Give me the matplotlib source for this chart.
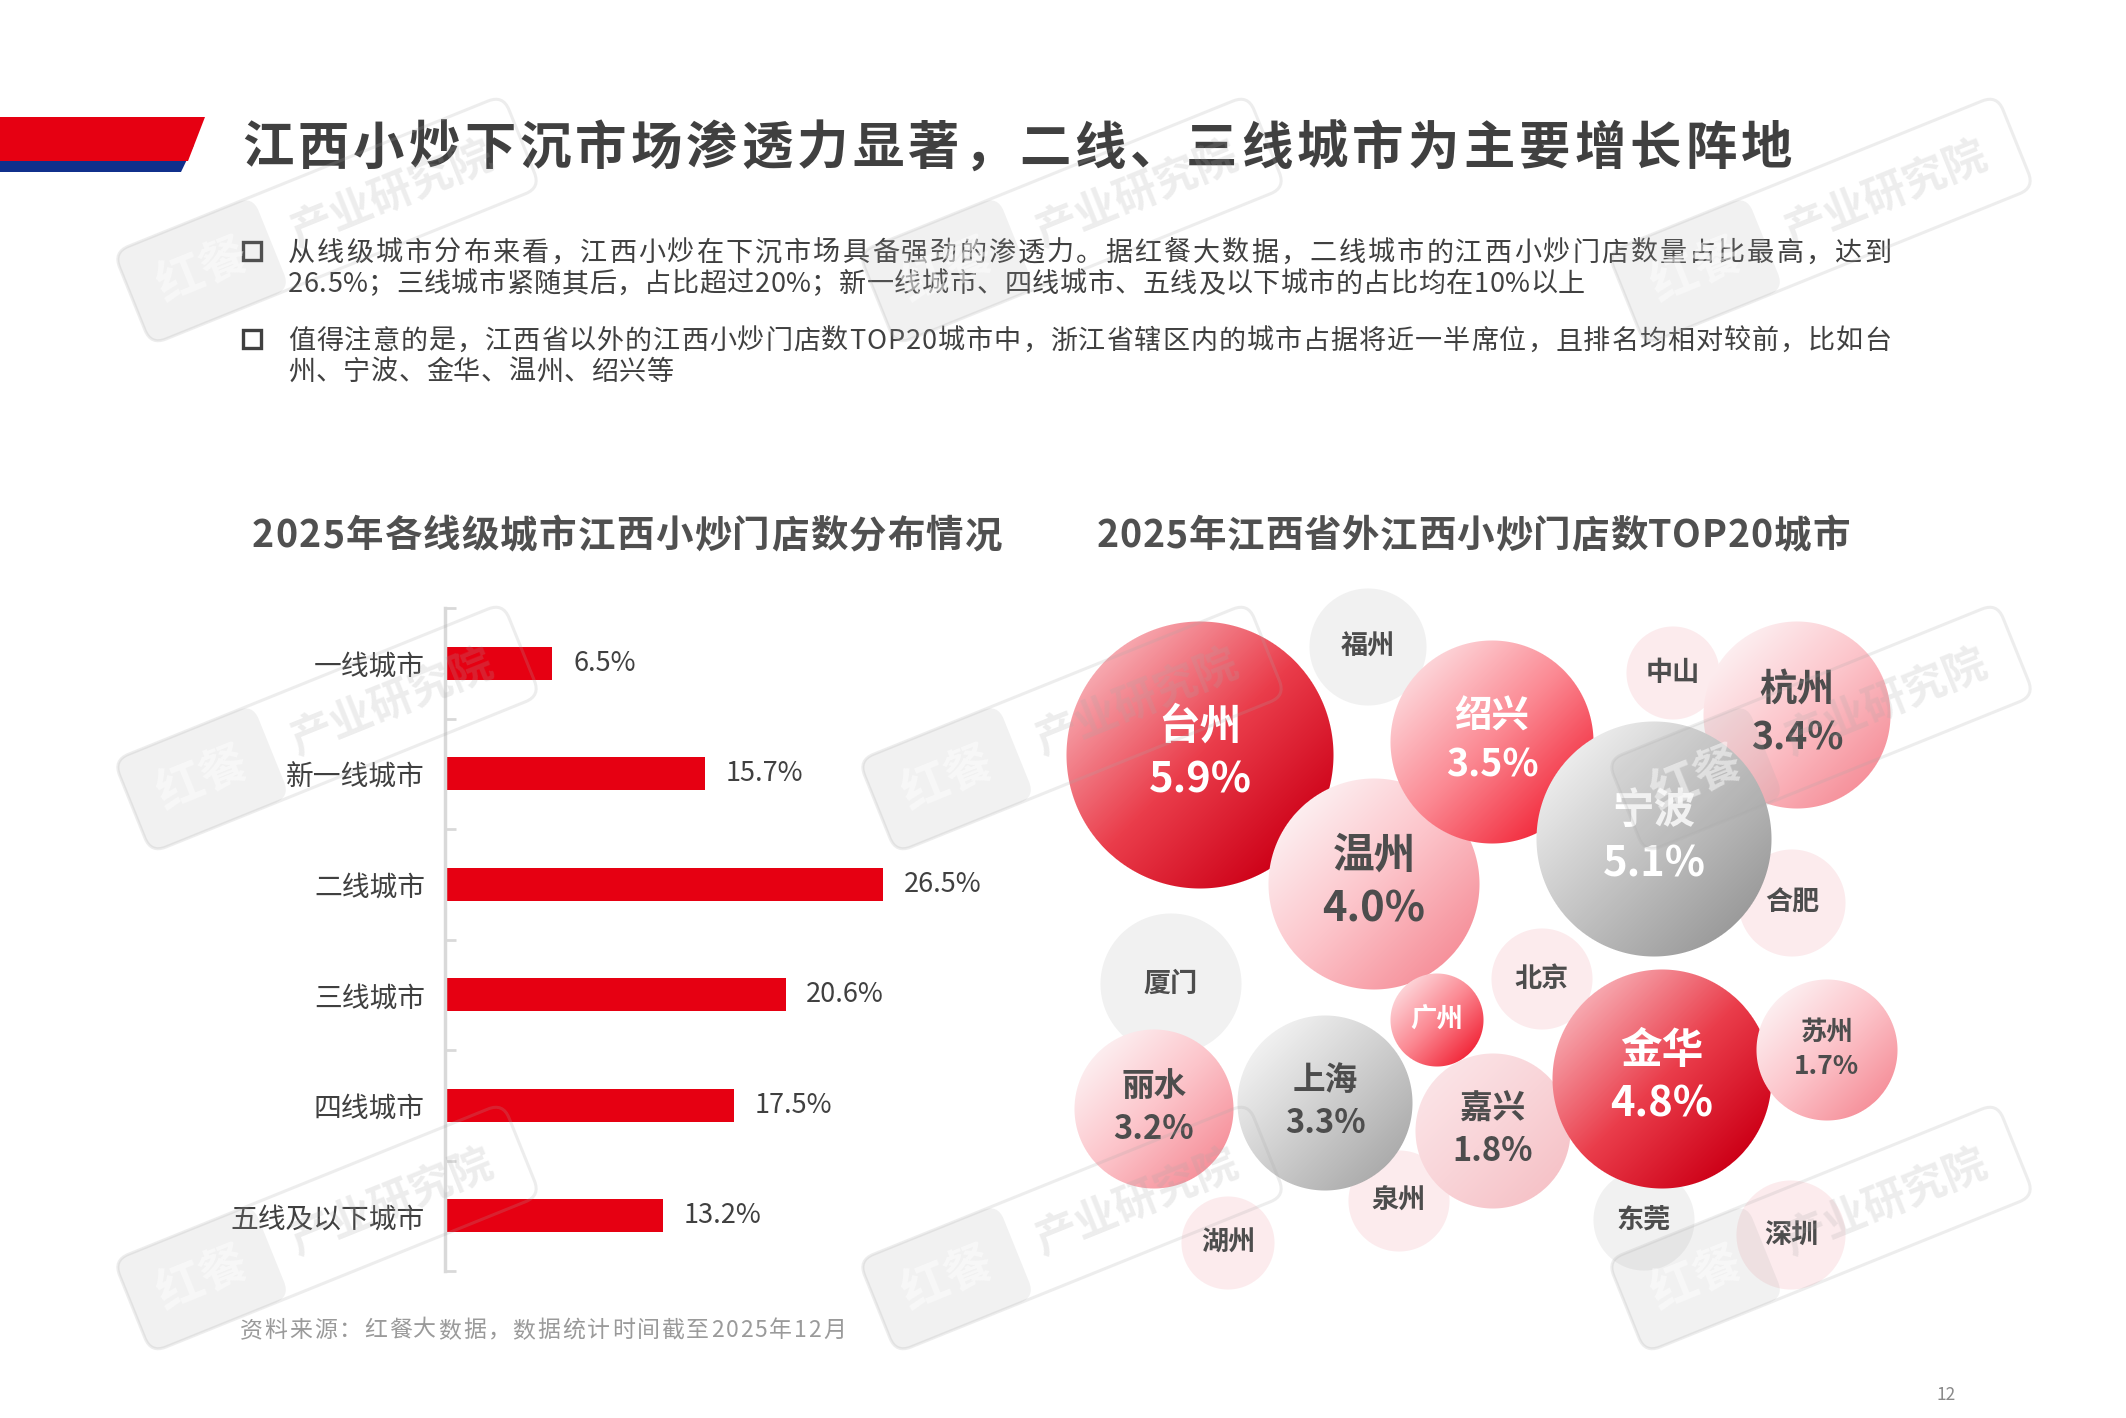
"""Jiangxi stir-fry store distribution slide: tier bar chart + top-20 city bubbles."""

import numpy as np
import matplotlib.pyplot as plt
from matplotlib.patches import Polygon, Rectangle, FancyBboxPatch
from matplotlib.colors import LinearSegmentedColormap
from matplotlib.transforms import Affine2D
from matplotlib.font_manager import FontProperties, findfont, get_font

try:
    from matplotlib.ft2font import LoadFlags
    NO_HINT = LoadFlags.NO_HINTING
except ImportError:
    from matplotlib.ft2font import LOAD_NO_HINTING as NO_HINT

plt.rcParams['font.family'] = ['Noto Sans CJK SC', 'DejaVu Sans']

# ---------------- data ----------------
TITLE = "江西小炒下沉市场渗透力显著，二线、三线城市为主要增长阵地"
BULLETS = [
    ["从线级城市分布来看，江西小炒在下沉市场具备强劲的渗透力。据红餐大数据，二线城市的江西小炒门店数量占比最高，达到",
     "26.5%；三线城市紧随其后，占比超过20%；新一线城市、四线城市、五线及以下城市的占比均在10%以上"],
    ["值得注意的是，江西省以外的江西小炒门店数TOP20城市中，浙江省辖区内的城市占据将近一半席位，且排名均相对较前，比如台",
     "州、宁波、金华、温州、绍兴等"],
]
LEFT_TITLE = "2025年各线级城市江西小炒门店数分布情况"
RIGHT_TITLE = "2025年江西省外江西小炒门店数TOP20城市"
SOURCE = "资料来源：红餐大数据，数据统计时间截至2025年12月"
PAGE_NO = "12"

tiers = ["一线城市", "新一线城市", "二线城市", "三线城市", "四线城市", "五线及以下城市"]
tier_share = [6.5, 15.7, 26.5, 20.6, 17.5, 13.2]

cities = ["台州", "宁波", "金华", "温州", "绍兴", "杭州", "上海", "丽水", "嘉兴", "苏州",
          "福州", "中山", "合肥", "厦门", "北京", "广州", "泉州", "湖州", "东莞", "深圳"]
city_share = [5.9, 5.1, 4.8, 4.0, 3.5, 3.4, 3.3, 3.2, 1.8, 1.7,
              None, None, None, None, None, None, None, None, None, None]

# ---------------- layout (page pixels) ----------------
W, H = 2126, 1418
PT = 100 / 72          # page px per point

# packed-bubble layout: centre x, centre y, radius (drawing order = list order)
bubble_xy = {
    "福州": (1368, 647, 59), "中山": (1673, 673, 47), "合肥": (1792, 903, 54),
    "厦门": (1171, 984, 71), "北京": (1542, 979, 51), "泉州": (1399, 1201, 51),
    "湖州": (1228, 1243, 47), "东莞": (1644, 1220, 51), "深圳": (1791, 1235, 55),
    "台州": (1200, 755, 134), "温州": (1374, 884, 106), "绍兴": (1492, 742, 102),
    "杭州": (1797, 715, 94), "宁波": (1654, 839, 118), "广州": (1437, 1020, 47),
    "嘉兴": (1493, 1131, 78), "金华": (1662, 1079, 110), "苏州": (1827, 1050, 71),
    "丽水": (1154, 1109, 80), "上海": (1325, 1103, 88),
}
bubble_style = {
    "台州": "red", "金华": "red", "绍兴": "rose", "广州": "rose",
    "温州": "pink", "杭州": "pink", "丽水": "pink", "苏州": "pink", "嘉兴": "blush",
    "宁波": "silver", "上海": "mist",
    "福州": "grey", "厦门": "grey", "东莞": "grey",
    "中山": "shell", "合肥": "shell", "北京": "shell", "泉州": "shell",
    "湖州": "shell", "深圳": "shell",
}
label_size = {"台州": 30, "宁波": 30, "金华": 30, "温州": 30, "绍兴": 27, "杭州": 27,
              "上海": 23.5, "丽水": 23.5, "嘉兴": 23.5, "苏州": 19, "广州": 19}
PALETTES = {
    "red":    ["#f7a9b0", "#ea3d4b", "#cd0017"],
    "rose":   ["#fdd5d9", "#fb8791", "#f2283a"],
    "pink":   ["#fdeef0", "#fcc4ca", "#f6919b"],
    "blush":  ["#fbe3e6", "#f9d4d8", "#f6c3c8"],
    "silver": ["#ececec", "#c3c3c3", "#9b9b9b"],
    "mist":   ["#f1f1f1", "#cfcfcf", "#acacac"],
    "grey":   ["#f1f1f1"],
    "shell":  ["#fcebed"],
}
WHITE_TEXT = ("red", "rose", "silver")

INK = "#404040"
RED = "#e60012"


def advances(s, size, weight="normal"):
    font = get_font(findfont(FontProperties(family="Noto Sans CJK SC", weight=weight)))
    font.set_size(size, 72)
    return [font.load_char(ord(ch), flags=NO_HINT).linearHoriAdvance / 65536 * PT for ch in s]


def spaced(ax, x, yc, s, size, color, weight="normal", width=None, gap=0.0, ha="left"):
    """Draw s char by char with letter spacing; yc is the glyph centre line."""
    adv = advances(s, size, weight)
    if width is not None:
        gap = (width - sum(adv)) / (len(s) - 1)
    total = sum(adv) + gap * (len(s) - 1)
    if ha == "center":
        x -= total / 2
    base = yc + 0.38 * size * PT
    for ch, a in zip(s, adv):
        ax.text(x, base, ch, fontsize=size, color=color, fontweight=weight,
                ha="left", va="baseline")
        x += a + gap
    return gap


def disc(ax, cx, cy, r, colors, z):
    n = int(2 * r) + 2
    u, v = np.meshgrid(np.linspace(0, 1, n), np.linspace(0, 1, n))
    t = np.clip((u + v - 1) / np.sqrt(2) + 0.5, 0, 1)
    cmap = LinearSegmentedColormap.from_list("g", colors if len(colors) > 1 else colors * 2)
    rgba = cmap(t)
    d = np.hypot(u - 0.5, v - 0.5) * n
    rgba[..., 3] = np.clip(n / 2 - 1 - d + 0.5, 0, 1)
    ax.imshow(rgba, extent=(cx - r - 1, cx + r + 1, cy + r + 1, cy - r - 1), origin="upper",
              interpolation="bilinear", aspect="auto", zorder=z)


fig = plt.figure(figsize=(W / 100, H / 100), dpi=100)
page = fig.add_axes([0, 0, 1, 1])
page.set_xlim(0, W)
page.set_ylim(H, 0)
page.set_autoscale_on(False)
page.axis("off")

# header banner
page.add_patch(Polygon([(0, 145), (194, 145), (181, 172), (0, 172)], closed=True, color="#10308c", lw=0))
page.add_patch(Polygon([(0, 117), (205, 117), (188, 161), (0, 161)], closed=True, color=RED, lw=0))

spaced(page, 242, 144, TITLE, 37, INK, weight="bold", width=1550)

# bullet text: first lines justified to the right margin, second lines at natural length
line_widths = [(1603, 1297), (1603, 385)]
for (l1, l2), (w1, w2), y0 in zip(BULLETS, line_widths, [250.5, 338.5]):
    page.add_patch(Rectangle((243, y0 - 9), 18, 18, fill=False, ec=INK, lw=2.4))
    spaced(page, 288, y0, l1, 19.5, INK, width=w1)
    spaced(page, 288, y0 + 31, l2, 19.5, INK, width=w2)

spaced(page, 627, 533, LEFT_TITLE, 27, "#505050", weight="bold", width=750, ha="center")
spaced(page, 1473, 533, RIGHT_TITLE, 27, "#505050", weight="bold", width=753, ha="center")
spaced(page, 240, 1328, SOURCE, 16.5, "#9a9a9a", width=606)
page.text(1946, 1395, PAGE_NO, fontsize=12.5, color="#8a8a8a", ha="center", va="center")

# ---------------- bar chart ----------------
bx = fig.add_axes([445 / W, 1 - 1271 / H, 496 / W, 663 / H], zorder=2)
bx.patch.set_alpha(0)
yy = np.arange(len(tiers))
bx.barh(yy, tier_share, height=0.3, color=RED)
bx.set_xlim(0, 30)
bx.set_ylim(len(tiers) - 0.5, -0.5)
for s in ["top", "right", "bottom"]:
    bx.spines[s].set_visible(False)
bx.spines["left"].set_color("#d9d9d9")
bx.spines["left"].set_linewidth(2.5)
bx.set_xticks([])
bx.set_yticks(yy, tiers)
bx.tick_params(axis="y", which="major", length=0, pad=14.4, labelsize=20, labelcolor=INK)
bx.set_yticks(np.arange(-0.5, len(tiers)), minor=True)
bx.tick_params(axis="y", which="minor", direction="in", length=8, width=2, color="#d9d9d9")
for yi, v in zip(yy, tier_share):
    bx.annotate(f"{v}%", (v, yi), xytext=(14.8, 0), textcoords="offset points",
                ha="left", va="center", fontsize=19.5, color=INK)

# ---------------- bubbles ----------------
share_of = dict(zip(cities, city_share))
for z, city in enumerate(bubble_xy):
    cx, cy, r = bubble_xy[city]
    disc(page, cx, cy, r, PALETTES[bubble_style[city]], 3 + z * 0.01)

for city in bubble_xy:
    cx, cy, r = bubble_xy[city]
    fs = label_size.get(city, 19.5)
    col = "white" if bubble_style[city] in WHITE_TEXT else "#4d4d4d"
    kw = dict(ha="center", va="center", fontsize=fs, fontweight="bold", color=col, zorder=4)
    if share_of[city] is None:
        page.text(cx, cy, city, **kw)
    else:
        page.text(cx, cy - 0.68 * fs * PT, city, **kw)
        page.text(cx, cy + 0.62 * fs * PT, f"{share_of[city]}%", **kw)

# ---------------- watermark ----------------
wm = fig.add_axes([0, 0, 1, 1], zorder=5)
wm.set_xlim(0, W)
wm.set_ylim(H, 0)
wm.axis("off")
WM = "#a8a8a8"
ang = 22
ca, sa = np.cos(np.radians(ang)), np.sin(np.radians(ang))
for cx in [327, 1072, 1821]:
    for cy in [220, 728, 1228]:
        tr = Affine2D().rotate_deg_around(cx, cy, -ang) + wm.transData
        wm.add_patch(FancyBboxPatch((cx - 210, cy - 50), 420, 100,
                                    boxstyle="round,pad=0,rounding_size=16",
                                    fc="none", ec=WM, lw=2.2, alpha=0.2, transform=tr))
        wm.add_patch(FancyBboxPatch((cx - 210, cy - 50), 150, 100,
                                    boxstyle="round,pad=0,rounding_size=16",
                                    fc=WM, ec="none", alpha=0.16, transform=tr))
        wm.text(cx - 135 * ca, cy + 135 * sa, "红餐", rotation=ang, rotation_mode="anchor",
                ha="center", va="center", fontsize=34, fontweight="bold", color="white", alpha=0.5)
        wm.text(cx + 70 * ca, cy - 70 * sa, "产业研究院", rotation=ang, rotation_mode="anchor",
                ha="center", va="center", fontsize=31, fontweight="bold", color=WM, alpha=0.2)

fig.savefig("out.png", dpi=100, facecolor="white")
